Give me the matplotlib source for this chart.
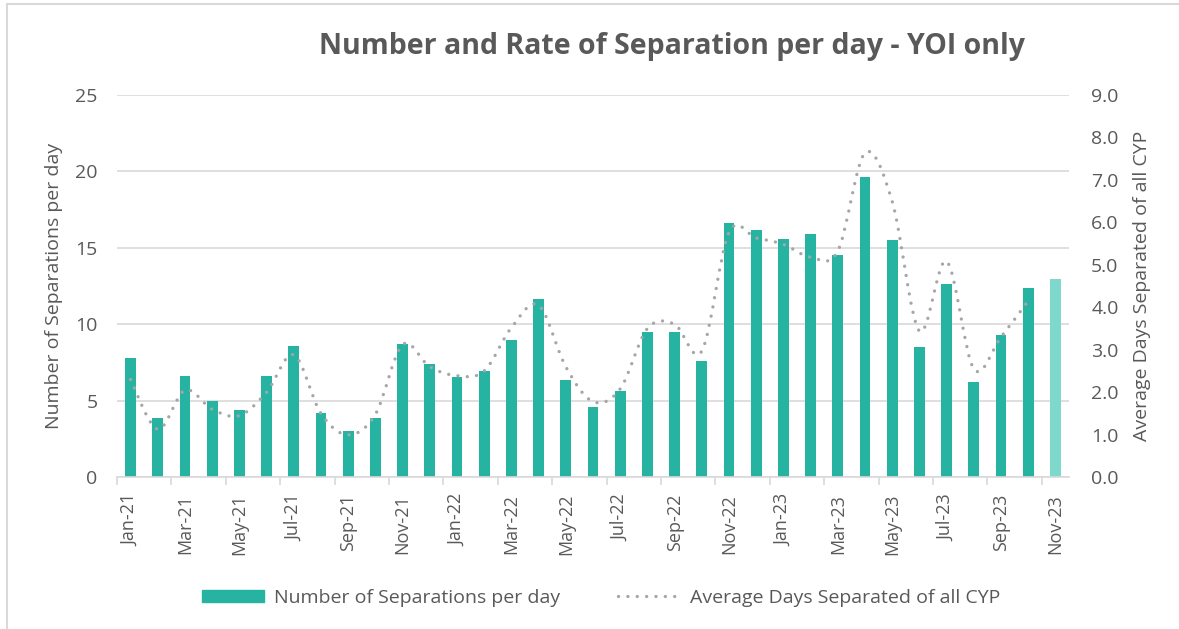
"""
Number and Rate of Separation per day - YOI only
"""

import numpy as np
import matplotlib
matplotlib.use("Agg")
import matplotlib.pyplot as plt
from matplotlib.path import Path
from matplotlib.patches import PathPatch, Patch
from matplotlib.lines import Line2D

plt.rcParams['font.family'] = ['Open Sans', 'DejaVu Sans']

# 月份
months = ["Jan-21", "Feb-21", "Mar-21", "Apr-21", "May-21", "Jun-21", "Jul-21",
          "Aug-21", "Sep-21", "Oct-21", "Nov-21", "Dec-21", "Jan-22", "Feb-22",
          "Mar-22", "Apr-22", "May-22", "Jun-22", "Jul-22", "Aug-22", "Sep-22",
          "Oct-22", "Nov-22", "Dec-22", "Jan-23", "Feb-23", "Mar-23", "Apr-23",
          "May-23", "Jun-23", "Jul-23", "Aug-23", "Sep-23", "Oct-23", "Nov-23"]

# 每天分离次数 (左轴)
separations = [7.8, 3.85, 6.65, 5.0, 4.4, 6.65, 8.55, 4.2, 3.0, 3.85, 8.7, 7.4,
               6.55, 6.95, 9.0, 11.65, 6.35, 4.6, 5.65, 9.5, 9.5, 7.6, 16.65,
               16.15, 15.6, 15.9, 14.55, 19.65, 15.5, 8.5, 12.65, 6.2, 9.3,
               12.4, 12.95]

# 平均分离天数 (右轴), Nov-23 无数据
avg_days = [2.3, 1.13, 2.05, 1.6, 1.45, 2.0, 2.88, 1.5, 1.0, 1.48, 3.12, 2.6,
            2.39, 2.5, 3.52, 4.05, 2.6, 1.78, 2.08, 3.5, 3.6, 2.97, 5.76,
            5.63, 5.48, 5.18, 5.32, 7.63, 6.49, 3.44, 5.08, 2.55, 3.3, 4.15]

TEXT = "#595959"
GRID = "#D9D9D9"
BAR = "#27B3A2"
BAR_LAST = "#7ED9CC"
LINE = "#A6A6A6"


def smooth_path(x, y):
    """Excel 风格平滑线: 用三次贝塞尔曲线连接数据点"""
    x = np.asarray(x, float)
    y = np.asarray(y, float)
    n = len(x)
    verts = [(x[0], y[0])]
    codes = [Path.MOVETO]
    for i in range(n - 1):
        x0, y0 = (x[i - 1], y[i - 1]) if i > 0 else (x[i], y[i])
        x3, y3 = (x[i + 2], y[i + 2]) if i + 2 < n else (x[i + 1], y[i + 1])
        c1 = (x[i] + (x[i + 1] - x0) / 6, y[i] + (y[i + 1] - y0) / 6)
        c2 = (x[i + 1] - (x3 - x[i]) / 6, y[i + 1] - (y3 - y[i]) / 6)
        verts += [c1, c2, (x[i + 1], y[i + 1])]
        codes += [Path.CURVE4] * 3
    return Path(verts, codes)


fig = plt.figure(figsize=(11.79, 6.29), dpi=100)
ax = fig.add_axes([0.0992, 0.2412, 0.8075, 0.6082])
ax2 = ax.twinx()

x = np.arange(len(months))
colors = [BAR] * (len(months) - 1) + [BAR_LAST]
ax.bar(x, separations, width=0.4, color=colors, zorder=2)

ax.set_ylim(0, 25)
ax.set_yticks(np.arange(0, 26, 5))
ax.set_xlim(-0.5, len(months) - 0.5)
ax.yaxis.grid(True, color=GRID, linewidth=1.2, zorder=0)
ax.set_axisbelow(True)

ax.set_xticks(x[::2])
ax.set_xticklabels(months[::2], rotation=90)
ax.set_xticks(np.arange(-0.5, len(months), 2), minor=True)
ax.tick_params(axis='x', which='major', length=0, pad=12, labelsize=13, labelcolor=TEXT)
ax.tick_params(axis='x', which='minor', length=6, color=GRID, width=1.2)
ax.tick_params(axis='y', length=0, pad=14, labelsize=14, labelcolor=TEXT)

for a in (ax, ax2):
    for s in a.spines.values():
        s.set_visible(False)
ax.spines['bottom'].set_visible(True)
ax.spines['bottom'].set_color(GRID)
ax.spines['bottom'].set_linewidth(1.2)

ax.set_ylabel("Number of Separations per day", fontsize=14, color=TEXT, labelpad=9)

# 平滑虚点线
xl = x[:len(avg_days)]
patch = PathPatch(smooth_path(xl, avg_days), facecolor='none', edgecolor=LINE,
                  linewidth=2.4, linestyle=(0, (0.01, 2.8)), capstyle='round', zorder=3)
ax2.add_patch(patch)
ax2.set_ylim(0, 9)
ax2.set_yticks(np.arange(0, 10, 1))
ax2.set_yticklabels([f"{v:.1f}" for v in range(10)])
ax2.tick_params(axis='y', length=0, pad=16, labelsize=14, labelcolor=TEXT)
ax2.set_ylabel("Average Days Separated of all CYP", fontsize=14, color=TEXT, labelpad=10)

fig.text(0.570, 0.926, "Number and Rate of Separation per day - YOI only",
         ha='center', va='center', fontsize=20.5, fontweight='bold', color=TEXT)

handles = [Patch(facecolor=BAR, edgecolor=BAR),
           Line2D([], [], color=LINE, linewidth=2.4, linestyle=(0, (0.01, 2.8)),
                  dash_capstyle='round')]
leg = fig.legend(handles, ["Number of Separations per day", "Average Days Separated of all CYP"],
                 loc='center', bbox_to_anchor=(0.51, 0.05), ncol=2, frameon=False,
                 fontsize=14, handlelength=3.2, handleheight=0.6, columnspacing=3.0,
                 handletextpad=0.5)
for t in leg.get_texts():
    t.set_color(TEXT)

# 图表外框 (上, 左)
fig.add_artist(Line2D([0.006, 1.0], [0.993, 0.993], color=GRID, linewidth=1.5,
                      transform=fig.transFigure))
fig.add_artist(Line2D([0.006, 0.006], [0.0, 0.993], color=GRID, linewidth=1.5,
                      transform=fig.transFigure))

fig.savefig("out.png", dpi=100)
